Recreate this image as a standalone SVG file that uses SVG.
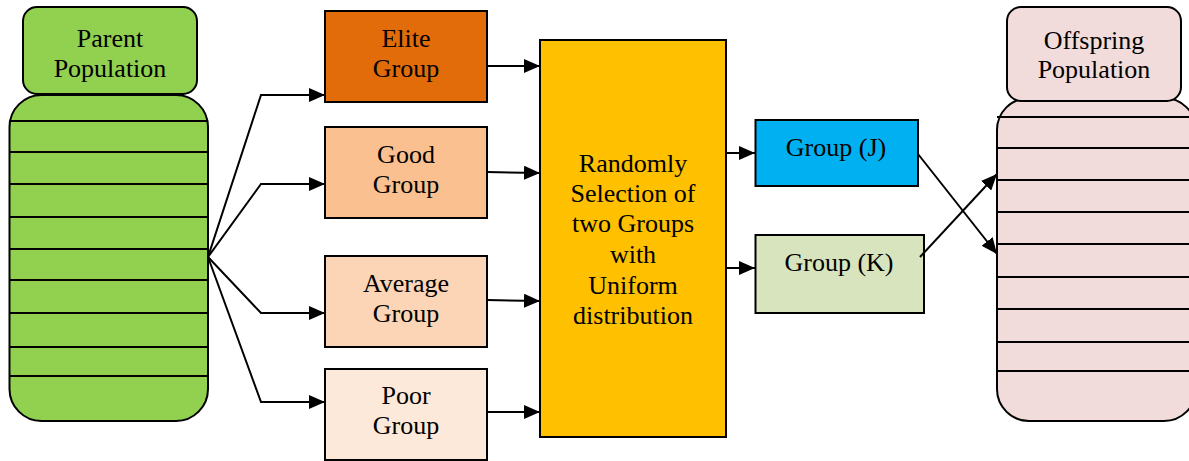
<svg xmlns="http://www.w3.org/2000/svg" width="1189" height="461" viewBox="0 0 1189 461">
  <defs>
    <marker id="arrow" markerUnits="userSpaceOnUse" markerWidth="16" markerHeight="14" viewBox="0 0 16 14" refX="16" refY="7" orient="auto">
      <polygon points="0,0 16,7 0,14" fill="#000"/>
    </marker>
    <clipPath id="offClip"><rect x="0" y="0" width="1189" height="461"/></clipPath>
  </defs>
  <style>
    .lbl { font-family: "Liberation Serif", "Times New Roman", serif; font-size: 26px; fill: #000; text-anchor: middle; }
    .box { stroke: #000; stroke-width: 2; }
    .sep { stroke: #000; stroke-width: 2; fill: none; }
    .conn { stroke: #000; stroke-width: 2; fill: none; marker-end: url(#arrow); }
  </style>
  <rect width="1189" height="461" fill="#fff"/>

  <!-- Parent population container -->
  <g id="parent-population">
    <rect class="box" x="9.5" y="95" width="198.5" height="326" rx="32" ry="32" fill="#92D050"/>
    <rect class="box" x="23" y="7" width="174" height="87" rx="14" ry="14" fill="#92D050"/>
    <text class="lbl" x="110" y="47">Parent</text>
    <text class="lbl" x="110" y="77">Population</text>
    <g class="sep">
      <line x1="9.5" y1="121" x2="208" y2="121"/>
      <line x1="9.5" y1="152" x2="208" y2="152"/>
      <line x1="9.5" y1="184" x2="208" y2="184"/>
      <line x1="9.5" y1="217" x2="208" y2="217"/>
      <line x1="9.5" y1="249" x2="208" y2="249"/>
      <line x1="9.5" y1="280" x2="208" y2="280"/>
      <line x1="9.5" y1="313" x2="208" y2="313"/>
      <line x1="9.5" y1="347" x2="208" y2="347"/>
      <line x1="9.5" y1="376" x2="208" y2="376"/>
    </g>
  </g>

  <!-- Quality groups -->
  <g id="elite-group">
    <rect class="box" x="325" y="11" width="162" height="91" fill="#E36C0A"/>
    <text class="lbl" x="406" y="47">Elite</text>
    <text class="lbl" x="406" y="77">Group</text>
  </g>
  <g id="good-group">
    <rect class="box" x="325" y="127" width="162" height="91" fill="#FAC090"/>
    <text class="lbl" x="406" y="163">Good</text>
    <text class="lbl" x="406" y="193">Group</text>
  </g>
  <g id="average-group">
    <rect class="box" x="325" y="256" width="162" height="91" fill="#FBD5B5"/>
    <text class="lbl" x="406" y="292">Average</text>
    <text class="lbl" x="406" y="322">Group</text>
  </g>
  <g id="poor-group">
    <rect class="box" x="325" y="369" width="162" height="91" fill="#FDE9D9"/>
    <text class="lbl" x="406" y="404">Poor</text>
    <text class="lbl" x="406" y="434">Group</text>
  </g>

  <!-- Random selection step -->
  <g id="random-selection">
    <rect class="box" x="540" y="40" width="186" height="397" fill="#FFC000"/>
    <text class="lbl" x="633" y="172">Randomly</text>
    <text class="lbl" x="633" y="202">Selection of</text>
    <text class="lbl" x="633" y="232">two Groups</text>
    <text class="lbl" x="633" y="263">with</text>
    <text class="lbl" x="633" y="294">Uniform</text>
    <text class="lbl" x="633" y="324">distribution</text>
  </g>

  <!-- Selected groups -->
  <g id="group-j">
    <rect class="box" x="755.5" y="120" width="162.5" height="66" fill="#00B0F0"/>
    <text class="lbl" x="836" y="156">Group (J)</text>
  </g>
  <g id="group-k">
    <rect class="box" x="755.5" y="235" width="168.5" height="78" fill="#D7E4BD"/>
    <text class="lbl" x="839" y="271">Group (K)</text>
  </g>

  <!-- Offspring population container -->
  <g id="offspring-population" clip-path="url(#offClip)">
    <rect class="box" x="997" y="98" width="199" height="323" rx="32" ry="32" fill="#F2DCDB"/>
    <rect class="box" x="1007" y="7" width="174" height="94" rx="14" ry="14" fill="#F2DCDB"/>
    <text class="lbl" x="1094" y="49">Offspring</text>
    <text class="lbl" x="1094" y="78">Population</text>
    <g class="sep">
      <line x1="997" y1="117" x2="1196" y2="117"/>
      <line x1="997" y1="148" x2="1196" y2="148"/>
      <line x1="997" y1="180" x2="1196" y2="180"/>
      <line x1="997" y1="212" x2="1196" y2="212"/>
      <line x1="997" y1="244" x2="1196" y2="244"/>
      <line x1="997" y1="277" x2="1196" y2="277"/>
      <line x1="997" y1="309" x2="1196" y2="309"/>
      <line x1="997" y1="342" x2="1196" y2="342"/>
      <line x1="997" y1="371" x2="1196" y2="371"/>
    </g>
  </g>

  <!-- Connectors -->
  <g id="connectors">
    <path class="conn" d="M208,257 L261,95 L325,95"/>
    <path class="conn" d="M208,257 L261,184 L325,184"/>
    <path class="conn" d="M208,257 L261,313 L325,313"/>
    <path class="conn" d="M208,257 L261,402 L325,402"/>
    <path class="conn" d="M487,66 L540,66"/>
    <path class="conn" d="M487,172 L540,173"/>
    <path class="conn" d="M487,300 L540,301"/>
    <path class="conn" d="M487,412 L540,412"/>
    <path class="conn" d="M726,153 L755,153"/>
    <path class="conn" d="M726,268 L755,268"/>
    <path class="conn" d="M918,154 L997,254"/>
    <path class="conn" d="M920,257 L997,174"/>
  </g>
</svg>
